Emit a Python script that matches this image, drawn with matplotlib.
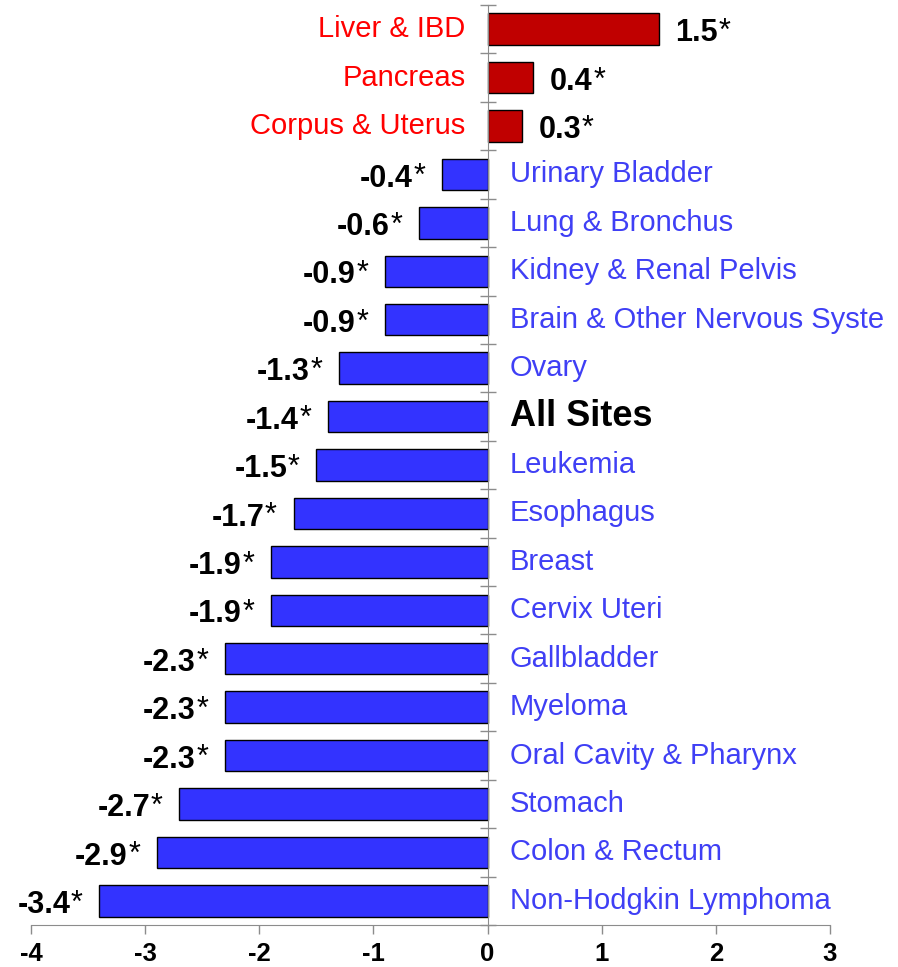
import matplotlib

matplotlib.use("Agg")
import matplotlib.pyplot as plt
import numpy as np

plt.rcParams["font.family"] = ["Liberation Sans", "DejaVu Sans"]

SITES = [
    "Liver & IBD", "Pancreas", "Corpus & Uterus", "Urinary Bladder",
    "Lung & Bronchus", "Kidney & Renal Pelvis", "Brain & Other Nervous Syste",
    "Ovary", "All Sites", "Leukemia", "Esophagus", "Breast", "Cervix Uteri",
    "Gallbladder", "Myeloma", "Oral Cavity & Pharynx", "Stomach",
    "Colon & Rectum", "Non-Hodgkin Lymphoma",
]
APC = [1.5, 0.4, 0.3, -0.4, -0.6, -0.9, -0.9, -1.3, -1.4, -1.5, -1.7,
       -1.9, -1.9, -2.3, -2.3, -2.3, -2.7, -2.9, -3.4]
XTICKS = [-4, -3, -2, -1, 0, 1, 2, 3]

RED_BAR, RED_TXT = "#C00000", "#FF0000"
BLUE_BAR, BLUE_TXT = "#3333FF", "#3F3FF5"
GREY = "#8C8C8C"


def main():
    fig = plt.figure(figsize=(8.98, 9.67), dpi=100)
    ax = fig.add_axes([31 / 898, 42 / 967, 799 / 898, 920 / 967])

    y = np.arange(len(SITES))
    colors = [RED_BAR if v > 0 else BLUE_BAR for v in APC]
    ax.barh(y, APC, height=0.65, color=colors, edgecolor="black", linewidth=1.0, zorder=2)

    for yi, (site, v) in enumerate(zip(SITES, APC)):
        pos = v > 0
        # category name on the opposite side of the bar
        if site == "All Sites":
            ax.annotate(site, (0, yi), xytext=(16, 0), textcoords="offset points",
                        ha="left", va="center", fontsize=26, fontweight="bold", color="black")
        else:
            ax.annotate(site, (0, yi), xytext=(-16 if pos else 16, 0), textcoords="offset points",
                        ha="right" if pos else "left", va="center", fontsize=21,
                        color=RED_TXT if pos else BLUE_TXT)
        # value label with a plain asterisk
        num = f"{v:.1f}"
        if pos:
            t = ax.annotate(num, (v, yi), xytext=(12, -3), textcoords="offset points",
                            ha="left", va="center", fontsize=22, fontweight="bold")
        else:
            t = ax.annotate(num, (v, yi), xytext=(-21, -3), textcoords="offset points",
                            ha="right", va="center", fontsize=22, fontweight="bold")
        ax.annotate("*", xy=(1, 1), xycoords=t, xytext=(0.5, 1), textcoords="offset points",
                    ha="left", va="top", fontsize=22)

    ax.set_xlim(-4, 3)
    ax.set_ylim(len(SITES) - 0.5, -0.5)
    ax.set_xticks(XTICKS)
    ax.set_xticklabels([str(t) for t in XTICKS], fontsize=18.5, fontweight="bold")

    ax.set_yticks(np.arange(len(SITES) + 1) - 0.5)
    ax.set_yticklabels([])

    for s in ("top", "right"):
        ax.spines[s].set_visible(False)
    ax.spines["left"].set_position(("data", 0))
    ax.spines["left"].set_color(GREY)
    ax.spines["left"].set_zorder(3)
    ax.spines["bottom"].set_color(GREY)
    ax.tick_params(axis="y", direction="inout", length=11, color=GREY, width=1)
    ax.tick_params(axis="x", direction="out", length=6.5, color=GREY, width=1, pad=6)

    fig.savefig("out.png", dpi=100)


if __name__ == "__main__":
    main()
